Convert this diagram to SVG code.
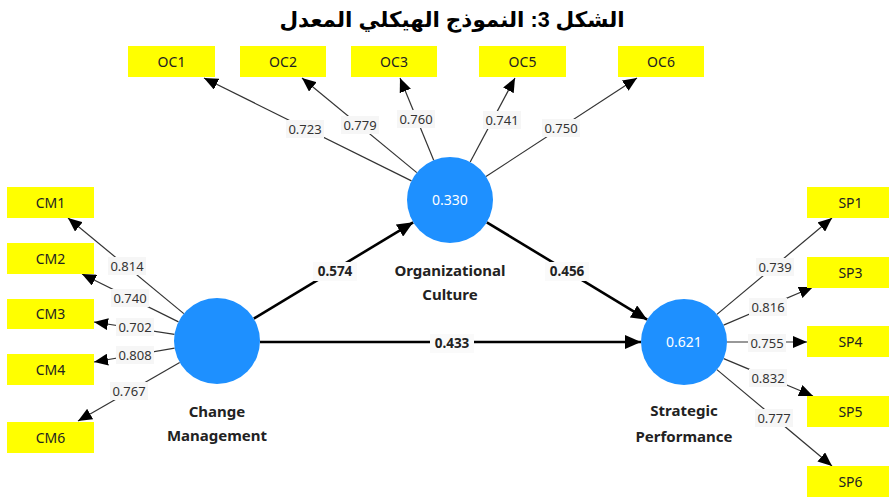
<svg xmlns="http://www.w3.org/2000/svg" width="889" height="498" viewBox="0 0 889 498">
  <style>
    .title { font-family: "Liberation Sans", "DejaVu Sans", sans-serif; font-size: 21.5px; font-weight: bold; fill: #000; }
    .ind rect { fill: #ffff00; }
    .ind text { font-family: "Noto Sans", "Open Sans", sans-serif; font-size: 14px; fill: #222; text-anchor: middle; }
    .lv circle { fill: #1e90ff; }
    .lv .r2 { font-family: "Noto Sans", "Open Sans", sans-serif; font-size: 14px; fill: #fff; text-anchor: middle; }
    .lv .name { font-family: "Noto Sans", "Open Sans", sans-serif; font-size: 15px; font-weight: bold; fill: #222; text-anchor: middle; }
    .load { stroke: #333; stroke-width: 1.2; fill: none; marker-end: url(#ah); }
    .path { stroke: #000; stroke-width: 2.6; fill: none; marker-end: url(#ahb); }
    .lbl rect { fill: #f6f6f6; }
    .lbl text { font-family: "Noto Sans", "Open Sans", sans-serif; font-size: 13px; fill: #333; text-anchor: middle; }
    .plbl rect { fill: #fafafa; }
    .plbl text { font-family: "Noto Sans", "Open Sans", sans-serif; font-size: 13.5px; font-weight: bold; fill: #222; text-anchor: middle; }
  </style>
  <defs>
    <marker id="ah" markerUnits="userSpaceOnUse" markerWidth="14" markerHeight="12" viewBox="0 0 14 12" refX="14" refY="6" orient="auto">
      <path d="M0,0 L14,6 L0,12 Z" fill="#000"/>
    </marker>
    <marker id="ahb" markerUnits="userSpaceOnUse" markerWidth="16" markerHeight="14" viewBox="0 0 16 14" refX="16" refY="7" orient="auto">
      <path d="M0,0 L16,7 L0,14 Z" fill="#000"/>
    </marker>
  </defs>

  <rect width="889" height="498" fill="#fff"/>

  <text class="title" x="452" y="27" text-anchor="middle" direction="rtl">الشكل 3: النموذج الهيكلي المعدل</text>

  <!-- connectors -->
  <g id="connectors">
    <!-- outer loadings: Organizational Culture -->
    <line class="load" x1="411.5" y1="180.9" x2="204" y2="78"/>
    <line class="load" x1="416.8" y1="172.6" x2="302" y2="78"/>
    <line class="load" x1="433.7" y1="160.2" x2="400" y2="78"/>
    <line class="load" x1="470.2" y1="162.0" x2="515" y2="78"/>
    <line class="load" x1="486.0" y1="176.5" x2="637" y2="78"/>
    <!-- outer loadings: Change Management -->
    <line class="load" x1="183.8" y1="313.6" x2="68" y2="218"/>
    <line class="load" x1="178.5" y1="321.9" x2="82" y2="274"/>
    <line class="load" x1="174.5" y1="334.4" x2="94" y2="322"/>
    <line class="load" x1="174.6" y1="348.2" x2="94" y2="362"/>
    <line class="load" x1="179.7" y1="362.5" x2="78" y2="421"/>
    <!-- outer loadings: Strategic Performance -->
    <line class="load" x1="716.9" y1="314.4" x2="832" y2="218"/>
    <line class="load" x1="723.6" y1="325.1" x2="813" y2="287"/>
    <line class="load" x1="727" y1="342" x2="807" y2="342"/>
    <line class="load" x1="723.7" y1="358.6" x2="813" y2="396"/>
    <line class="load" x1="716.9" y1="369.6" x2="832" y2="466"/>
    <!-- structural paths -->
    <line class="path" x1="253.8" y1="318.7" x2="413.2" y2="222.3"/>
    <line class="path" x1="260" y1="342" x2="641" y2="342"/>
    <line class="path" x1="486.8" y1="222.3" x2="647.2" y2="319.7"/>

    <!-- loading values -->
    <g class="lbl">
      <rect x="286" y="120" width="38" height="18"/><text x="305" y="134">0.723</text>
      <rect x="341" y="116" width="38" height="18"/><text x="360" y="130">0.779</text>
      <rect x="397" y="110" width="38" height="18"/><text x="416" y="124">0.760</text>
      <rect x="483" y="111" width="38" height="18"/><text x="502" y="125">0.741</text>
      <rect x="542" y="119" width="38" height="18"/><text x="561" y="133">0.750</text>

      <rect x="108" y="257" width="38" height="18"/><text x="127" y="271">0.814</text>
      <rect x="111" y="289" width="38" height="18"/><text x="130" y="303">0.740</text>
      <rect x="116" y="318" width="38" height="18"/><text x="135" y="332">0.702</text>
      <rect x="116" y="346" width="38" height="18"/><text x="135" y="360">0.808</text>
      <rect x="110" y="382" width="38" height="18"/><text x="129" y="396">0.767</text>

      <rect x="756" y="258" width="38" height="18"/><text x="775" y="272">0.739</text>
      <rect x="749" y="298" width="38" height="18"/><text x="768" y="312">0.816</text>
      <rect x="748" y="334" width="38" height="18"/><text x="767" y="348">0.755</text>
      <rect x="749" y="369" width="38" height="18"/><text x="768" y="383">0.832</text>
      <rect x="755" y="409" width="38" height="18"/><text x="774" y="423">0.777</text>
    </g>

    <!-- path coefficients -->
    <g class="plbl">
      <rect x="313" y="262" width="44" height="19"/><text x="335" y="276">0.574</text>
      <rect x="430" y="334" width="44" height="19"/><text x="452" y="348">0.433</text>
      <rect x="545" y="262" width="44" height="19"/><text x="567" y="276">0.456</text>
    </g>
  </g>

  <!-- indicators -->
  <g id="OC1" class="ind"><rect x="128" y="46" width="87" height="31"/><text x="171.5" y="67">OC1</text></g>
  <g id="OC2" class="ind"><rect x="240" y="46" width="86" height="31"/><text x="283" y="67">OC2</text></g>
  <g id="OC3" class="ind"><rect x="351" y="46" width="86" height="31"/><text x="394" y="67">OC3</text></g>
  <g id="OC5" class="ind"><rect x="479" y="46" width="87" height="31"/><text x="522.5" y="67">OC5</text></g>
  <g id="OC6" class="ind"><rect x="618" y="46" width="86" height="31"/><text x="661" y="67">OC6</text></g>

  <g id="CM1" class="ind"><rect x="7" y="187" width="87" height="31"/><text x="50.5" y="208">CM1</text></g>
  <g id="CM2" class="ind"><rect x="7" y="243" width="87" height="31"/><text x="50.5" y="264">CM2</text></g>
  <g id="CM3" class="ind"><rect x="7" y="299" width="87" height="30"/><text x="50.5" y="319">CM3</text></g>
  <g id="CM4" class="ind"><rect x="7" y="354" width="87" height="31"/><text x="50.5" y="375">CM4</text></g>
  <g id="CM6" class="ind"><rect x="7" y="422" width="87" height="31"/><text x="50.5" y="443">CM6</text></g>

  <g id="SP1" class="ind"><rect x="807" y="187" width="87" height="31"/><text x="850.5" y="208">SP1</text></g>
  <g id="SP3" class="ind"><rect x="807" y="257" width="87" height="31"/><text x="850.5" y="278">SP3</text></g>
  <g id="SP4" class="ind"><rect x="807" y="326" width="87" height="31"/><text x="850.5" y="347">SP4</text></g>
  <g id="SP5" class="ind"><rect x="807" y="396" width="87" height="31"/><text x="850.5" y="417">SP5</text></g>
  <g id="SP6" class="ind"><rect x="807" y="466" width="87" height="31"/><text x="850.5" y="487">SP6</text></g>

  <!-- latent variables -->
  <g id="OrganizationalCulture" class="lv">
    <circle cx="450" cy="200" r="43"/>
    <text class="r2" x="450" y="205">0.330</text>
    <text class="name" x="450" y="276">Organizational</text>
    <text class="name" x="450" y="300">Culture</text>
  </g>
  <g id="ChangeManagement" class="lv">
    <circle cx="217" cy="341" r="43"/>
    <text class="name" x="217" y="417">Change</text>
    <text class="name" x="217" y="441">Management</text>
  </g>
  <g id="StrategicPerformance" class="lv">
    <circle cx="684" cy="342" r="43"/>
    <text class="r2" x="684" y="347">0.621</text>
    <text class="name" x="684" y="416">Strategic</text>
    <text class="name" x="684" y="442">Performance</text>
  </g>
</svg>
